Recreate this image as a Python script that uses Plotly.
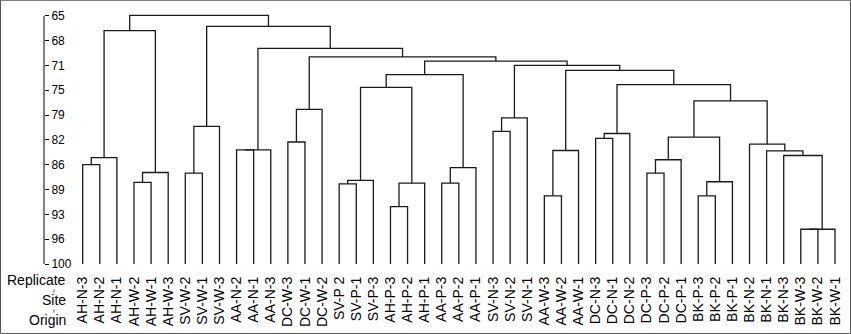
import plotly.graph_objects as go

# ---------------- data ----------------
leaf_labels = [
    "AH-N-3", "AH-N-2", "AH-N-1", "AH-W-2", "AH-W-1", "AH-W-3",
    "SV-W-2", "SV-W-1", "SV-W-3", "AA-N-2", "AA-N-1", "AA-N-3",
    "DC-W-3", "DC-W-1", "DC-W-2", "SV-P 2", "SV-P-1", "SV-P-3",
    "AH-P-3", "AH-P-2", "AH-P-1", "AA-P-3", "AA-P-2", "AA-P-1",
    "SV-N-3", "SV-N-2", "SV-N-1", "AA-W-3", "AA-W-2", "AA-W-1",
    "DC-N-3", "DC-N-1", "DC-N-2", "DC-P-3", "DC-P-2", "DC-P-1",
    "BK-P-3", "BK-P-2", "BK-P-1", "BK-N-2", "BK-N-1", "BK-N-3",
    "BK-W-3", "BK-W-2", "BK-W-1",
]
leaf_height = 100.0

# merges: (child_a, child_b) ids; leaves are 0..44, new clusters 45, 46, ...
merge_a = [0, 45, 3, 47, 46, 6, 50, 9, 52, 12, 54, 15, 56, 18, 58, 57, 21, 61, 60,
           24, 64, 27, 66, 30, 68, 33, 70, 36, 72, 71, 42, 75, 41, 40, 39, 74, 69, 67,
           65, 63, 55, 53, 51, 49]
merge_b = [1, 2, 4, 5, 48, 7, 8, 10, 11, 13, 14, 16, 17, 19, 20, 59, 22, 23, 62,
           25, 26, 28, 29, 31, 32, 34, 35, 37, 38, 73, 43, 44, 76, 77, 78, 79, 80, 81,
           82, 83, 84, 85, 86, 87]
merge_height = [86.0, 85.0, 88.5, 87.1, 67.1, 87.2, 80.6, 83.9, 83.9, 82.8, 78.2,
                88.7, 88.2, 91.9, 88.6, 75.1, 88.6, 86.4, 73.3, 81.3, 79.4, 90.4,
                84.0, 82.3, 81.6, 87.2, 85.3, 90.4, 88.4, 82.1, 95.1, 95.1, 84.7,
                84.05, 83.1, 77.0, 74.7, 72.7, 72.0, 71.4, 70.8, 69.6, 66.5, 64.95]

ytick_vals = [65, 68.5, 72, 75.5, 79, 82.5, 86, 89.5, 93, 96.5, 100]
ytick_text = ["65", "68", "71", "75", "79", "82", "86", "89", "93", "96", "100"]
row_titles = ["Replicate", "Site", "Origin"]

# ---------------- layout geometry ----------------
W, H = 851, 334
px_per_unit = 248.0 / 35.0
y_top = 64.75
L, R = 44, 6
T = 16 - (65 - y_top) * px_per_unit
B = H - 264
pw, ph = W - L - R, H - T - B

# ---------------- dendrogram lines ----------------
n = len(leaf_labels)
xpos = {i: float(i) for i in range(n)}
hpos = {i: leaf_height for i in range(n)}
xs, ys = [], []
for k, (a, b, h) in enumerate(zip(merge_a, merge_b, merge_height)):
    nid = n + k
    xa, xb = xpos[a], xpos[b]
    xs += [xa, xa, xb, xb, None]
    ys += [hpos[a], h, h, hpos[b], None]
    xpos[nid] = (xa + xb) / 2
    hpos[nid] = h

fig = go.Figure()
fig.add_trace(go.Scatter(x=xs, y=ys, mode="lines",
                         line=dict(color="#1a1a1a", width=1.3),
                         hoverinfo="skip", showlegend=False))

font_family = "Liberation Sans, Arial, sans-serif"

# x range so that leaf 0 sits at px 82.7 and leaf 44 at px 835
step = (835 - 82.7) / (n - 1)
x0 = -(82.7 - L) / step
x1 = x0 + pw / step

fig.update_layout(
    width=W, height=H,
    margin=dict(l=L, r=R, t=T, b=B, pad=0, autoexpand=False),
    paper_bgcolor="white", plot_bgcolor="white",
    font=dict(family=font_family, color="black"),
    xaxis=dict(range=[x0, x1], tickmode="array", tickvals=list(range(n)),
               ticktext=leaf_labels, tickangle=-90, ticks="",
               showgrid=False, zeroline=False, showline=False,
               tickfont=dict(size=14, family=font_family, color="black"),
               ticklabelstandoff=9, automargin=False),
    yaxis=dict(range=[100, y_top], tickmode="array", tickvals=ytick_vals,
               ticktext=ytick_text, ticks="outside", ticklen=4, tickcolor="black",
               side="right", anchor="free", position=0, automargin=False,
               showgrid=False, zeroline=False, showline=False,
               tickfont=dict(size=12, family=font_family, color="black")),
)

def px_to_paper_x(px):
    return (px - L) / pw

def px_to_paper_y(py):
    return (H - B - py) / ph

# y-axis spine spanning exactly the 65..100 range
fig.add_shape(type="line", xref="paper", yref="y", x0=0, x1=0, y0=65, y1=100,
              line=dict(color="black", width=1))

for title, py in zip(row_titles, [280, 300, 320]):
    fig.add_annotation(text=title, x=px_to_paper_x(68), y=px_to_paper_y(py),
                       xref="paper", yref="paper", xanchor="right", yanchor="middle",
                       showarrow=False, font=dict(size=14, family=font_family, color="black"))

# small separators between the row titles
for py in [291, 311]:
    fig.add_shape(type="line", xref="paper", yref="paper",
                  x0=px_to_paper_x(54), x1=px_to_paper_x(54),
                  y0=px_to_paper_y(py - 1.5), y1=px_to_paper_y(py + 1.5),
                  line=dict(color="#555555", width=1))

fig.add_shape(type="rect", xref="paper", yref="paper",
              x0=px_to_paper_x(0.5), x1=px_to_paper_x(850.5),
              y0=px_to_paper_y(333.5), y1=px_to_paper_y(0.5),
              line=dict(color="#555555", width=1), layer="above")

fig.write_html("out.html", post_script="document.body.style.margin='0px';",
               config={"displayModeBar": False})
